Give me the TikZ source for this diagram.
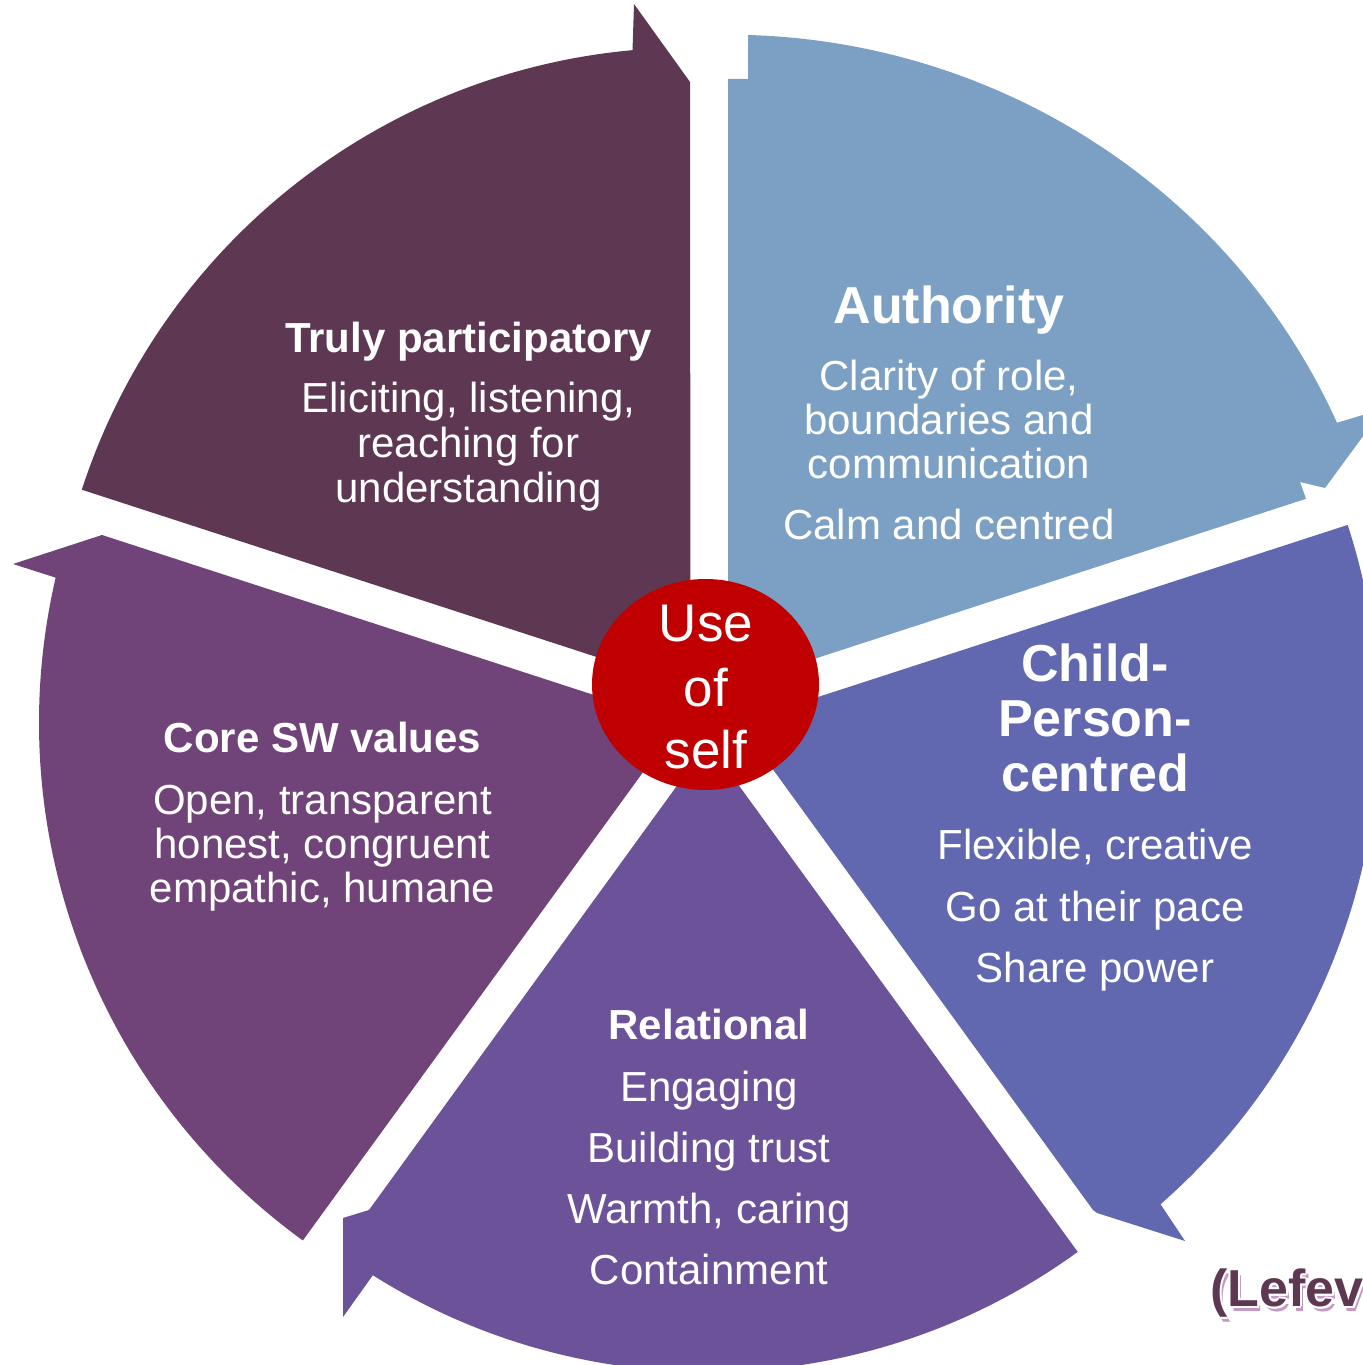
\documentclass[tikz,border=0pt]{standalone}
\usepackage{fontspec}
\setmainfont{Liberation Sans}
\usetikzlibrary{shapes.geometric}
\definecolor{cTruly}{HTML}{5E3752}
\definecolor{cAuth}{HTML}{7BA0C4}
\definecolor{cChild}{HTML}{6268B0}
\definecolor{cRel}{HTML}{6B5299}
\definecolor{cCore}{HTML}{704478}
\definecolor{cRed}{HTML}{C00000}
\definecolor{cShadow}{HTML}{C49AC4}
\begin{document}
\begin{tikzpicture}[x=0.5pt,y=0.5pt,
  body/.style={text=white,font=\fontsize{21pt}{22.7pt}\selectfont,anchor=base,inner sep=0pt},
  headS/.style={text=white,font=\fontsize{21pt}{22.7pt}\selectfont\bfseries,anchor=base,inner sep=0pt},
  headL/.style={text=white,font=\fontsize{26pt}{27.5pt}\selectfont\bfseries,anchor=base,inner sep=0pt},
  selftext/.style={text=white,font=\fontsize{26.5pt}{31.8pt}\selectfont,anchor=base,inner sep=0pt},
  lef/.style={font=\fontsize{26pt}{30pt}\selectfont\bfseries,anchor=base west,inner sep=0pt}]
\useasboundingbox (0,0) rectangle (1363,1365);
\clip (0,0) rectangle (1363,1365);
% Truly participatory
\fill[cTruly] (690.5,677.5) -- ++(162:640) arc[start angle=162,end angle=95.2,radius=640]
  -- (634,1361) -- (690,1283) -- cycle;
% Authority
\fill[cAuth] (728,678) -- (728,1286) -- (748,1286) -- (748,1330)
  arc[start angle=88.28,end angle=23.88,x radius=666,y radius=652]
  -- (1383,956) -- (1325,877) -- (1300,883) -- (1306,866.2) -- cycle;
% Child-Person-centred
\fill[cChild] (739,642.3) -- ++(18:640) arc[start angle=18,end angle=-48.8,radius=640]
  -- (1185,124) -- (1097,152) -- (1093,155) -- cycle;
% Relational
\fill[cRel] (708,622) -- ++(-54:629) arc[start angle=-54,end angle=-122.2,radius=629]
  -- (343,48) -- (343,147) -- (369,155) -- cycle;
% Core SW values
\fill[cCore] (679,642.3) -- ++(234:640) arc[start angle=234,end angle=166.9,radius=640]
  -- (13,801) -- (102,830) -- cycle;
% centre
\node[ellipse,fill=cRed,draw=none,inner sep=0pt,minimum width=113.5pt,minimum height=105.5pt] (self) at (705.5,680.5) {};
\node[selftext] (s1) at (706,723) {Use};
\node[selftext] (s2) at (706,658) {of};
\node[selftext] (s3) at (706,596) {self};
% Truly participatory text
\node[headS] (t1) at (468.5,1012) {Truly participatory};
\node[body] (t2) at (468.5,952) {Eliciting, listening,};
\node[body] (t3) at (468.5,907) {reaching for};
\node[body] (t4) at (468.5,862) {understanding};
% Authority text
\node[headL] (a1) at (949,1041) {Authority};
\node[body] (a2) at (949,974) {Clarity of role,};
\node[body] (a3) at (949,930) {boundaries and};
\node[body] (a4) at (949,886) {communication};
\node[body] (a5) at (949,825) {Calm and centred};
% Child text
\node[headL] (c1) at (1095,683) {Child-};
\node[headL] (c2) at (1095,628) {Person-};
\node[headL] (c3) at (1095,573) {centred};
\node[body] (c4) at (1095,505) {Flexible, creative};
\node[body] (c5) at (1095,443) {Go at their pace};
\node[body] (c6) at (1095,382) {Share power};
% Core text
\node[headS] (v1) at (322.5,612) {Core SW values};
\node[body] (v2) at (322.5,550) {Open, transparent};
\node[body] (v3) at (322.5,506) {honest, congruent};
\node[body] (v4) at (322.5,462) {empathic, humane};
% Relational text
\node[headS] (r1) at (709,325) {Relational};
\node[body] (r2) at (709,263) {Engaging};
\node[body] (r3) at (709,202) {Building trust};
\node[body] (r4) at (709,141) {Warmth, caring};
\node[body] (r5) at (709,80) {Containment};
% reference
\node[lef,text=cShadow] (lshadow) at (1213,54) {(Lefev};
\foreach \dx/\dy [count=\i] in {2/0,-2/0,0/2,0/-2,1.5/1.5,-1.5/1.5,1.5/-1.5,-1.5/-1.5}
  \node[lef,text=white] (lhalo\i) at (1210+\dx,58+\dy) {(Lefev};
\node[lef,text=cTruly] (lmain) at (1210,58) {(Lefev};
\end{tikzpicture}
\end{document}
